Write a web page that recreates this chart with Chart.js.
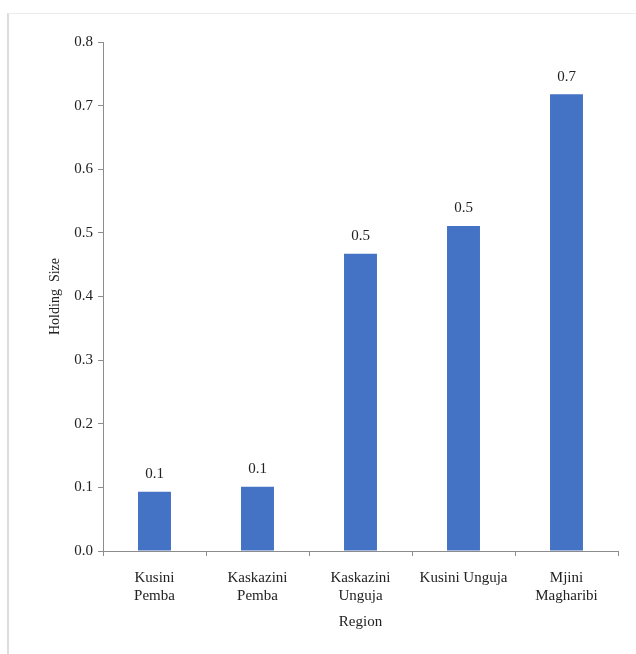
<!DOCTYPE html>
<html>
<head>
<meta charset="utf-8">
<script src="https://cdn.jsdelivr.net/npm/chart.js@4/dist/chart.umd.min.js"></script>
<style>
  html, body { margin: 0; padding: 0; background: #fff; }
  #frame {
    position: absolute; left: 7px; top: 13px; width: 640px; height: 660px;
    border-top: 1px solid #ececec; border-left: 2px solid #dcdcdc;
  }
  #wrap { position: absolute; left: 0; top: 0; width: 636px; height: 654px; }
</style>
</head>
<body>
<div id="frame"></div>
<div id="wrap"><canvas id="holdingChart" width="636" height="654"></canvas></div>
<script>
// Holding size by region

const regions = [
    ["Kusini", "Pemba"],
    ["Kaskazini", "Pemba"],
    ["Kaskazini", "Unguja"],
    "Kusini Unguja",
    ["Mjini", "Magharibi"]
];

const holdingSize = [0.093, 0.101, 0.467, 0.511, 0.718];

const yTicks = [0, 0.1, 0.2, 0.3, 0.4, 0.5, 0.6, 0.7, 0.8];

const serif = "'Liberation Serif', 'Times New Roman', serif";

// value labels above each bar
const barLabels = {
    id: "barLabels",
    afterDatasetsDraw(chart) {
        const ctx = chart.ctx;
        const meta = chart.getDatasetMeta(0);
        ctx.save();
        ctx.font = "15px " + serif;
        ctx.fillStyle = "#222";
        ctx.textAlign = "center";
        ctx.textBaseline = "bottom";
        meta.data.forEach(function (bar, i) {
            ctx.fillText(holdingSize[i].toFixed(1), bar.x, bar.y - 10);
        });
        ctx.restore();
    }
};

const ctx = document.getElementById("holdingChart").getContext("2d");

const holdingChart = new Chart(ctx, {
    type: "bar",
    data: {
        labels: regions,
        datasets: [{
            label: "Holding Size",
            data: holdingSize,
            backgroundColor: "#4472c4",
            categoryPercentage: 1,
            barPercentage: 0.32
        }]
    },
    options: {
        responsive: false,
        animation: false,
        layout: {
            padding: { left: 0, right: 18, top: 42, bottom: 23 }
        },
        plugins: {
            legend: { display: false },
            tooltip: { enabled: false }
        },
        scales: {
            x: {
                afterFit(scale) { scale.height = 80; },
                grid: {
                    drawOnChartArea: false,
                    drawTicks: true,
                    tickLength: 5,
                    color: "#8c8c8c"
                },
                border: { color: "#8c8c8c" },
                ticks: {
                    color: "#222",
                    font: { family: serif, size: 15 },
                    padding: 13,
                    maxRotation: 0,
                    autoSkip: false
                },
                title: {
                    display: true,
                    text: "Region",
                    color: "#222",
                    font: { family: serif, size: 15 },
                    padding: { top: 1, bottom: 0 }
                }
            },
            y: {
                min: 0,
                max: 0.8,
                afterFit(scale) { scale.width = 103; },
                afterBuildTicks(scale) {
                    scale.ticks = yTicks.map(function (v) { return { value: v }; });
                },
                grid: {
                    drawOnChartArea: false,
                    drawTicks: true,
                    tickLength: 5,
                    color: "#8c8c8c"
                },
                border: { color: "#8c8c8c" },
                ticks: {
                    color: "#222",
                    font: { family: serif, size: 15 },
                    padding: 5,
                    callback: function (v) { return Number(v).toFixed(1); }
                },
                title: {
                    display: true,
                    text: "Holding  Size",
                    color: "#222",
                    font: { family: serif, size: 14 },
                    padding: { top: 47, bottom: 0 }
                }
            }
        }
    },
    plugins: [barLabels]
});
</script>
</body>
</html>
